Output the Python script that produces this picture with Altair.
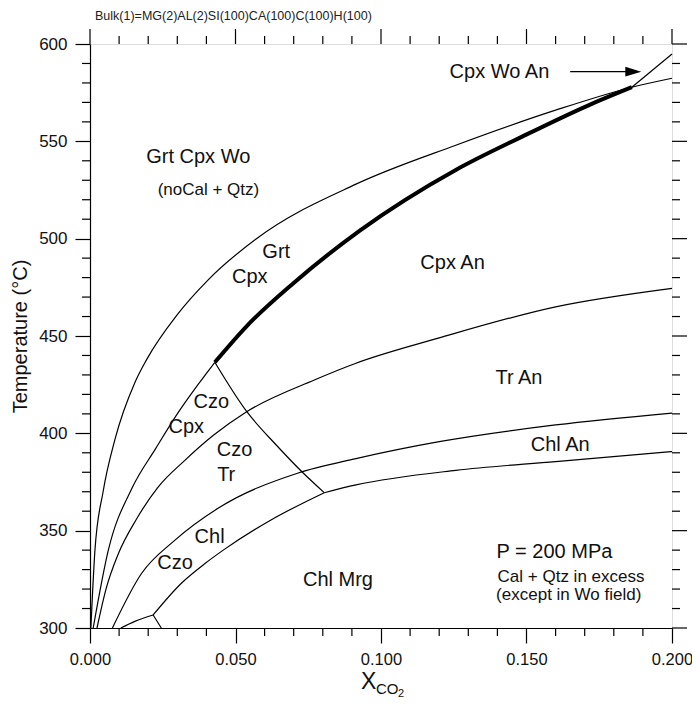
import altair as alt
import pandas as pd

W, H = 582, 584

# ---- phase boundary curves (X_CO2, T in °C) ----
curve_A_x = [0.0003, 0.0017, 0.0045, 0.0086, 0.0154, 0.0195, 0.030, 0.0407, 0.0572, 0.0914, 0.1257, 0.16, 0.1862, 0.2]
curve_A_t = [300, 340, 370, 397, 426, 438, 461, 479, 500, 528, 548, 566, 577.8, 582.4]

curve_B_x = [0.0011, 0.0063, 0.0145, 0.0225, 0.030, 0.0371, 0.0429]
curve_B_t = [300, 340, 372, 392, 410, 425, 436.5]

thick_x = [0.0429, 0.0538, 0.0698, 0.0926, 0.1257, 0.1485, 0.1713, 0.1862]
thick_t = [436.5, 455, 477, 504, 535.3, 552.4, 568.5, 577.8]

curve_F_x = [0.1862, 0.2]
curve_F_t = [577.8, 594.9]

curve_C_x = [0.0024, 0.0055, 0.0097, 0.016, 0.0232, 0.0325, 0.0424, 0.0537, 0.0771, 0.0914, 0.12, 0.16, 0.2]
curve_C_t = [300, 320, 338, 356, 372, 386, 399, 411, 427.4, 436, 449, 465, 474.5]

curve_D_x = [0.0077, 0.0177, 0.0291, 0.044, 0.0713, 0.0914, 0.12, 0.16, 0.2]
curve_D_t = [300, 328, 345, 361.5, 379.5, 387, 395.7, 404.3, 410.4]

curve_E1_x = [0.0217, 0.0314, 0.0394, 0.0458, 0.0622, 0.0805]
curve_E1_t = [306.7, 323, 333, 340, 355.5, 369.5]

curve_E2_x = [0.0805, 0.0914, 0.1257, 0.16, 0.2]
curve_E2_t = [369.5, 373.5, 381, 385.5, 390.6]

curve_G_x = [0.0106, 0.0154, 0.0217]
curve_G_t = [300, 303.4, 306.7]

curve_H_x = [0.0217, 0.0245]
curve_H_t = [306.7, 300]

diag_x = [0.0429, 0.0537, 0.064, 0.073, 0.0805]
diag_t = [436.5, 411.5, 394, 380, 369.5]

# ---- field labels ----
lab_text = ["Grt Cpx Wo", "(noCal + Qtz)", "Grt", "Cpx", "Cpx Wo An", "Cpx An", "Tr An", "Chl An",
            "Czo", "Cpx", "Czo", "Tr", "Chl", "Czo", "Chl Mrg", "P = 200 MPa",
            "Cal + Qtz in excess", "(except in Wo field)"]
lab_x = [0.0372, 0.0407, 0.064, 0.0549, 0.1407, 0.1246, 0.1474, 0.1616,
         0.0417, 0.0331, 0.0497, 0.0468, 0.0411, 0.0292, 0.0852, 0.1596,
         0.1653, 0.1645]
lab_t = [542.1, 525, 493.3, 480.5, 585.8, 487.3, 428.3, 394,
         416.3, 403.5, 391.5, 378.6, 346.5, 333.3, 324.7, 339.2,
         326.4, 317]
lab_fs = [20, 17, 20, 20, 20, 20, 20, 20,
          20, 20, 20, 20, 20, 20, 20, 20,
          17, 17]

# arrow pointing to the Cpx Wo An wedge
arrow_x = [0.165, 0.1894]
arrow_t = [585.8, 585.8]

# ---- ticks ----
x_major = [0.0, 0.05, 0.10, 0.15, 0.20]
x_minor = [0.01, 0.02, 0.03, 0.04, 0.06, 0.07, 0.08, 0.09, 0.11, 0.12, 0.13, 0.14,
           0.16, 0.17, 0.18, 0.19]
y_major = [300, 350, 400, 450, 500, 550, 600]
y_minor = [310, 320, 330, 340, 360, 370, 380, 390, 410, 420, 430, 440, 460, 470, 480, 490,
           510, 520, 530, 540, 560, 570, 580, 590]

FONT = "Liberation Sans"
MAJ, MIN = 15, 8

xs = alt.Scale(domain=[0, 0.2], nice=False, zero=False)
ys = alt.Scale(domain=[300, 600], nice=False, zero=False)
xaxis = alt.Axis(values=x_major, format=".3f", title=None, grid=False, tickSize=MAJ,
                 tickColor="black", domainColor="black", labelFontSize=16.5, labelColor="#111",
                 labelPadding=8, labelFont=FONT, tickWidth=1.2, domainWidth=1.2, labelFlush=False)
yaxis = alt.Axis(values=y_major, format="d", title="Temperature (°C)", grid=False, tickSize=MAJ,
                 tickColor="black", domainColor="black", labelFontSize=17, labelColor="#111",
                 labelPadding=8, labelFont=FONT, titleFont=FONT, titleFontSize=20,
                 titleFontWeight="normal", titleColor="#111", titleX=-70, titleY=H / 2,
                 titleAngle=-90, titleBaseline="middle", titleAlign="center",
                 tickWidth=1.2, domainWidth=1.2, labelFlush=False)


def X(field="x"):
    return alt.X(f"{field}:Q", scale=xs, axis=xaxis)


def Y(field="t"):
    return alt.Y(f"{field}:Q", scale=ys, axis=yaxis)


thin_curves = {
    "A": (curve_A_x, curve_A_t), "B": (curve_B_x, curve_B_t), "F": (curve_F_x, curve_F_t),
    "C": (curve_C_x, curve_C_t), "D": (curve_D_x, curve_D_t), "E1": (curve_E1_x, curve_E1_t),
    "E2": (curve_E2_x, curve_E2_t), "G": (curve_G_x, curve_G_t), "H": (curve_H_x, curve_H_t),
    "I": (diag_x, diag_t),
}
rows = []
for name, (xv, tv) in thin_curves.items():
    for i, (a, b) in enumerate(zip(xv, tv)):
        rows.append({"curve": name, "i": i, "x": a, "t": b})
thin_df = pd.DataFrame(rows)
thick_df = pd.DataFrame({"x": thick_x, "t": thick_t, "i": range(len(thick_x))})

thin = alt.Chart(thin_df).mark_line(color="black", strokeWidth=1.2, interpolate="monotone").encode(
    x=X(), y=Y(), detail="curve:N", order="i:Q")
thick = alt.Chart(thick_df).mark_line(color="black", strokeWidth=4, interpolate="monotone").encode(
    x=X(), y=Y(), order="i:Q")

lab_df = pd.DataFrame({"label": lab_text, "x": lab_x, "t": lab_t, "fs": lab_fs})
labels = alt.Chart(lab_df).mark_text(font=FONT, color="#111", align="center", baseline="middle").encode(
    x=X(), y=Y(), text="label:N", size=alt.Size("fs:Q", scale=None))

arr_df = pd.DataFrame({"x": [arrow_x[0]], "x2": [arrow_x[1] - 0.0045], "t": [arrow_t[0]]})
arrow_line = alt.Chart(arr_df).mark_rule(color="black", strokeWidth=1.3).encode(
    x=X(), x2="x2:Q", y=Y())
head_df = pd.DataFrame({"x": [arrow_x[1] - 0.0027], "t": [arrow_t[1]]})
arrow_head = alt.Chart(head_df).mark_point(
    shape="M-1,-0.6L1,0L-1,0.6Z", filled=True, color="black", opacity=1, size=256
).encode(x=X(), y=Y())

# ticks drawn on all four sides
xmaj_df = pd.DataFrame({"x": x_major})
xmin_df = pd.DataFrame({"x": x_minor})
ymaj_df = pd.DataFrame({"t": y_major})
ymin_df = pd.DataFrame({"t": y_minor})
tk = dict(color="black", strokeWidth=1.2)
ticks = [
    alt.Chart(xmin_df).mark_rule(**tk).encode(x=X(), y=alt.value(H), y2=alt.value(H + MIN)),
    alt.Chart(xmin_df).mark_rule(**tk).encode(x=X(), y=alt.value(0), y2=alt.value(-MIN)),
    alt.Chart(xmaj_df).mark_rule(**tk).encode(x=X(), y=alt.value(0), y2=alt.value(-MAJ)),
    alt.Chart(ymin_df).mark_rule(**tk).encode(y=Y(), x=alt.value(0), x2=alt.value(-MIN)),
    alt.Chart(ymin_df).mark_rule(**tk).encode(y=Y(), x=alt.value(W), x2=alt.value(W + MIN)),
    alt.Chart(ymaj_df).mark_rule(**tk).encode(y=Y(), x=alt.value(W), x2=alt.value(W + MAJ)),
]

# axis title X_CO2 and header
t_X = alt.Chart(pd.DataFrame({"s": ["X"]})).mark_text(font=FONT, fontSize=23, color="#111", align="left",
                                                     baseline="alphabetic").encode(
    text="s:N", x=alt.value(271), y=alt.value(645))
t_CO = alt.Chart(pd.DataFrame({"s": ["CO"]})).mark_text(font=FONT, fontSize=15, color="#111", align="left",
                                                       baseline="alphabetic").encode(
    text="s:N", x=alt.value(286), y=alt.value(650))
t_2 = alt.Chart(pd.DataFrame({"s": ["2"]})).mark_text(font=FONT, fontSize=11, color="#111", align="left",
                                                     baseline="alphabetic").encode(
    text="s:N", x=alt.value(308), y=alt.value(653))
header = alt.Chart(pd.DataFrame({"s": ["Bulk(1)=MG(2)AL(2)SI(100)CA(100)C(100)H(100)"]})).mark_text(
    font=FONT, fontSize=12.5, color="#222", align="left", baseline="top").encode(
    text="s:N", x=alt.value(5), y=alt.value(-34))

chart = alt.layer(thin, thick, labels, arrow_line, arrow_head, *ticks, t_X, t_CO, t_2, header).properties(
    width=W, height=H,
    autosize=alt.AutoSizeParams(type="none"),
    padding={"left": 82, "top": 36, "right": 20, "bottom": 70},
).configure_view(stroke="black", strokeWidth=1.2).configure(background="white")

chart.save("out.html", embed_options={"renderer": "svg", "actions": False})
